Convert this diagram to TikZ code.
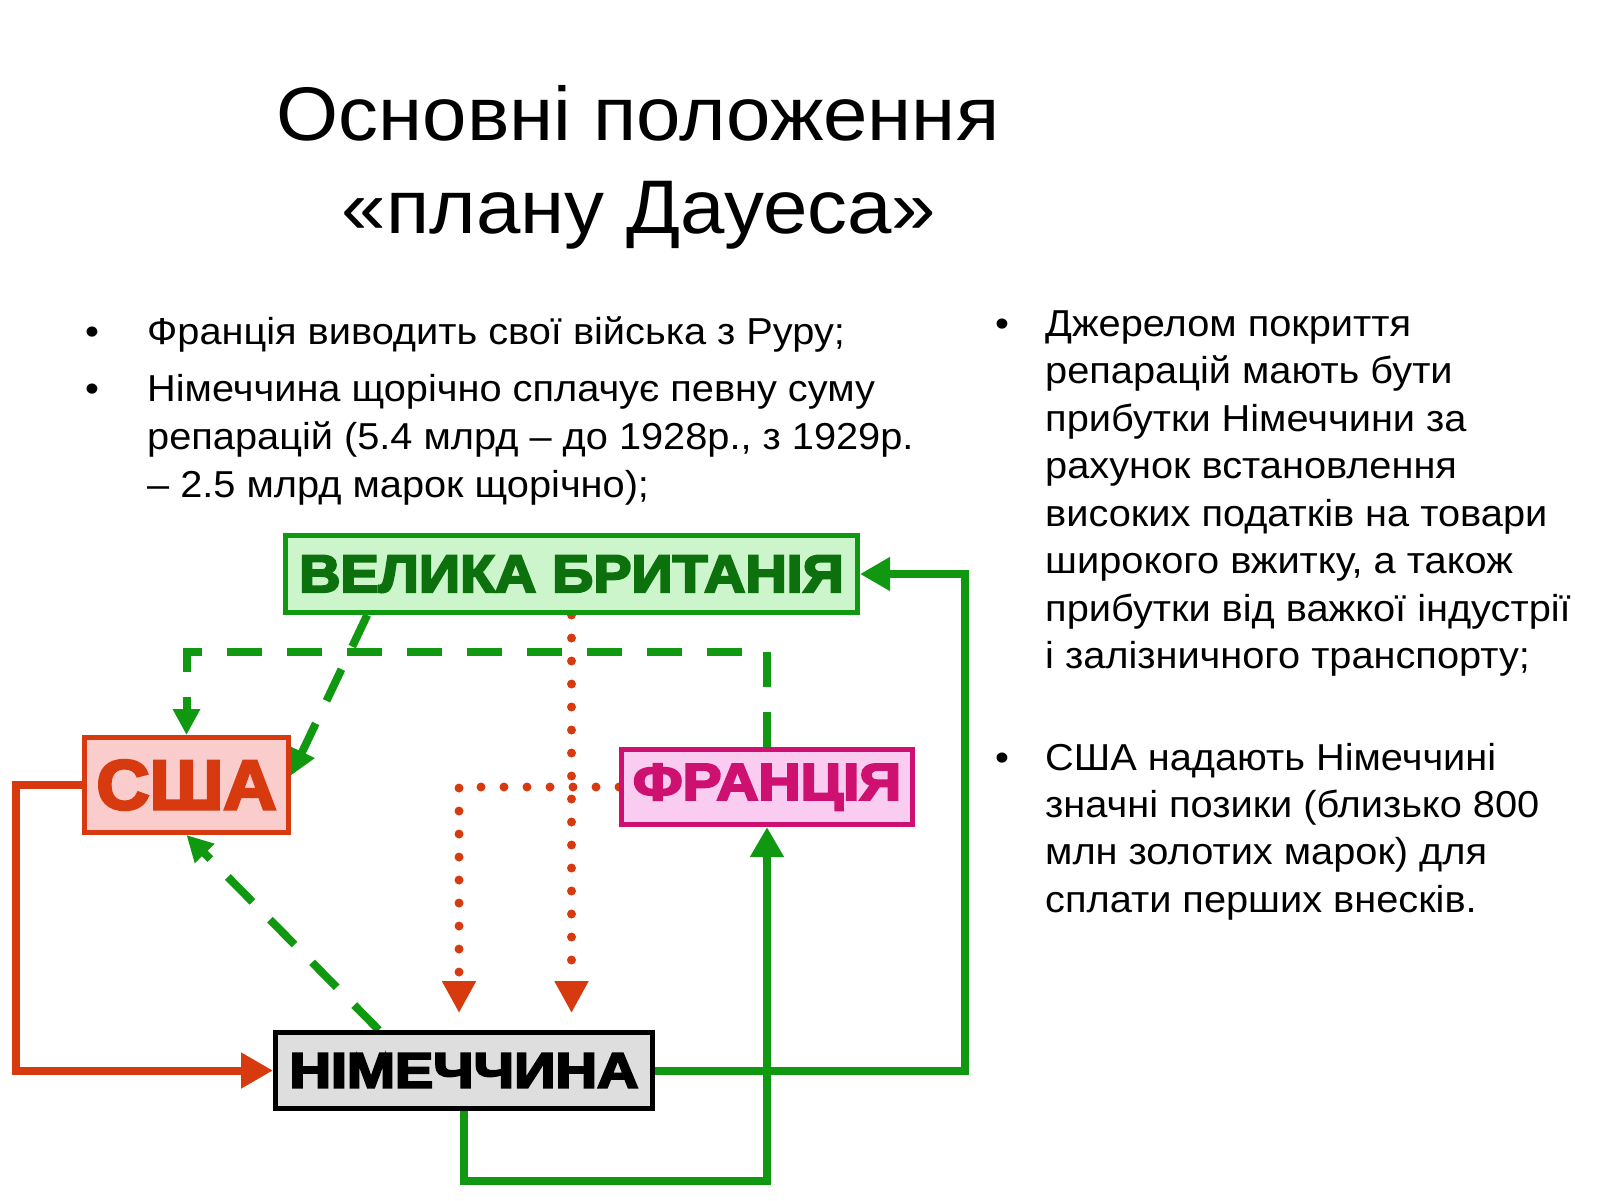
\documentclass[tikz,border=0pt]{standalone}
\usepackage{graphicx}
\usepackage{fontspec}
\setmainfont{Liberation Sans}[FakeStretch=1.06]
\newfontfamily\titlefont{Liberation Sans}[FakeStretch=1.05]
\newfontfamily\heavyfont{Liberation Sans}[BoldFeatures={FakeBold=4}]
\usetikzlibrary{arrows.meta,calc,backgrounds}
\definecolor{grn}{RGB}{16,152,16}
\definecolor{grnfill}{RGB}{204,245,204}
\definecolor{grntxt}{RGB}{12,112,12}
\definecolor{rd}{RGB}{214,58,14}
\definecolor{rdfill}{RGB}{250,204,204}
\definecolor{mag}{RGB}{206,16,112}
\definecolor{magfill}{RGB}{250,204,242}
\definecolor{gryfill}{RGB}{222,222,222}
\tikzset{
  bodytext/.style={anchor=base west,inner sep=0pt,font=\fontsize{37.5}{48}\selectfont},
  bullet/.style={anchor=base,inner sep=0pt,font=\fontsize{37.5}{48}\selectfont},
  titletext/.style={anchor=base,inner sep=0pt,font=\titlefont\fontsize{76}{93}\selectfont},
  box/.style={draw,line width=5pt,inner sep=0pt},
  solidgreen/.style={draw=grn,line width=8pt,-{Triangle[length=30pt,width=32pt]}},
  solidred/.style={draw=rd,line width=8pt,-{Triangle[length=32pt,width=34pt]}},
  dashgreen/.style={draw=grn,line width=8pt,dash pattern=on 35pt off 25pt,-{Triangle[length=26pt,width=26pt]}},
  dotred/.style={draw=rd,line width=9pt,line cap=round,dash pattern=on 0pt off 23pt,-{Triangle[length=32pt,width=32pt]},shorten >=17pt}
}
\begin{document}
\begin{tikzpicture}[x=1pt,y=-1pt]
\useasboundingbox (0,0) rectangle (1600,1200);
% title
\node[titletext] (t1) at (638,140) {Основні положення};
\node[titletext] (t2) at (639,233) {«плану Дауеса»};
% left text
\node[bullet] (lb1) at (92,344) {•};
\node[bodytext] (l1) at (147,344) {Франція виводить свої війська з Руру;};
\node[bullet] (lb2) at (92,401) {•};
\node[bodytext] (l2) at (147,401) {Німеччина щорічно сплачує певну суму};
\node[bodytext] (l3) at (147,449) {репарацій (5.4 млрд – до 1928р., з 1929р.};
\node[bodytext] (l4) at (147,497) {– 2.5 млрд марок щорічно);};
% right text
\node[bullet] (rb1) at (1002,336) {•};
\node[bodytext] (r1) at (1045,336) {Джерелом покриття};
\node[bodytext] (r2) at (1045,383.5) {репарацій мають бути};
\node[bodytext] (r3) at (1045,431) {прибутки Німеччини за};
\node[bodytext] (r4) at (1045,478.5) {рахунок встановлення};
\node[bodytext] (r5) at (1045,526) {високих податків на товари};
\node[bodytext] (r6) at (1045,573.5) {широкого вжитку, а також};
\node[bodytext] (r7) at (1045,621) {прибутки від важкої індустрії};
\node[bodytext] (r8) at (1045,668.5) {і залізничного транспорту;};
\node[bullet] (rb2) at (1002,770) {•};
\node[bodytext] (s1) at (1045,770) {США надають Німеччині};
\node[bodytext] (s2) at (1045,817.3) {значні позики (близько 800};
\node[bodytext] (s3) at (1045,864.6) {млн золотих марок) для};
\node[bodytext] (s4) at (1045,912) {сплати перших внесків.};
% boxes
\node[box,draw=grn,fill=grnfill,text=grntxt,minimum width=572pt,minimum height=77pt,font=\heavyfont\bfseries\fontsize{53}{60}\selectfont] (VB) at (571.5,574) {\scalebox{1.08}[1]{ВЕЛИКА БРИТАНІЯ}};
\node[box,draw=rd,fill=rdfill,text=rd,minimum width=204pt,minimum height=95pt,font=\heavyfont\bfseries\fontsize{70}{80}\selectfont] (USA) at (186.5,785) {\scalebox{1.05}[1]{США}};
\node[box,draw=mag,fill=magfill,text=mag,minimum width=291pt,minimum height=75pt,font=\heavyfont\bfseries\fontsize{52}{60}\selectfont] (FR) at (767,787) {\scalebox{1.12}[1]{ФРАНЦІЯ}};
\node[box,draw=black,fill=gryfill,text=black,minimum width=377pt,minimum height=76pt,font=\heavyfont\bfseries\fontsize{50}{60}\selectfont] (DE) at (464,1070.5) {\scalebox{1.15}[1]{НІМЕЧЧИНА}};
% connectors
\begin{scope}[on background layer]
\draw[solidred] (USA.west) -- ++(-66,0) |- (DE.west);
\draw[solidgreen] (DE.east) -- ++(310,0) |- (VB.east);
\draw[solidgreen] (DE.south) -- ++(0,70) -| (FR.south);
\draw[dashgreen] (FR.north) -- ++(0,-95) -| (USA.north);
\draw[dashgreen] ($(VB.south west)!0.146!(VB.south east)$) -- ($(USA.north east)!0.405!(USA.south east)$);
\draw[dashgreen] ($(DE.north west)!0.277!(DE.north east)$) -- (USA.south);
\draw[dotred] (VB.south) -- (VB.south |- DE.north);
\draw[dotred] (FR.west) -| ($(DE.north west)!0.487!(DE.north east)$);
\end{scope}
\end{tikzpicture}
\end{document}
